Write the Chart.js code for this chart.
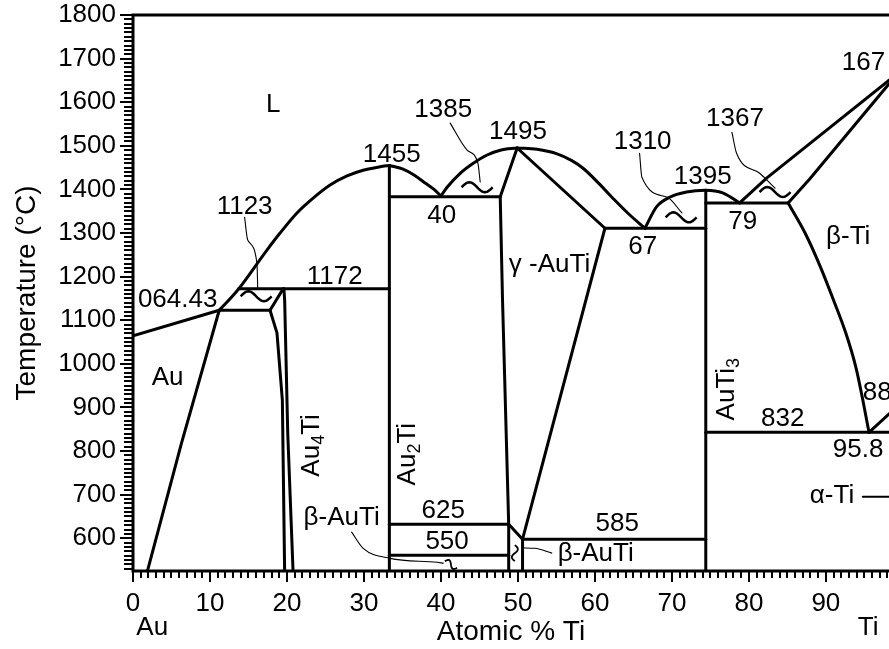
<!DOCTYPE html>
<html>
<head>
<meta charset="utf-8">
<title>Au-Ti phase diagram</title>
<script src="https://cdn.jsdelivr.net/npm/chart.js@4.4.1/dist/chart.umd.min.js"></script>
<style>
  html, body { margin: 0; padding: 0; background: #fff; overflow: hidden; }
  #wrap { width: 889px; height: 649px; }
</style>
</head>
<body>
<div id="wrap"><canvas id="chart" width="889" height="649"></canvas></div>
<script>
const FONT = '"Liberation Sans", Arial, Helvetica, sans-serif';

// axes
const xMin = 0, xMax = 98.2;
const yMin = 525, yMax = 1800;
const xTicks = [0, 10, 20, 30, 40, 50, 60, 70, 80, 90];
const yTicks = [600, 700, 800, 900, 1000, 1100, 1200, 1300, 1400, 1500, 1600, 1700, 1800];

// phase boundaries, points are [at.% Ti, temperature in C]
const liqAu = [[0, 1064.43], [11.2, 1123]];
const liqAu2TiLeft = [[11.2, 1123], [13.5, 1167], [17.4, 1261], [19.1, 1300], [21.3, 1346], [23.4, 1380],
  [25.6, 1410], [27.8, 1431], [29.9, 1444], [32.1, 1452], [33.3, 1455]];
const liqAu2TiRight = [[33.3, 1455], [35.0, 1447], [36.5, 1433], [38.0, 1414], [39.1, 1400], [40.0, 1385]];
const liqGammaLeft = [[40.0, 1385], [40.8, 1405], [42.5, 1437], [44.2, 1460], [46.0, 1479], [47.7, 1490], [49.9, 1495]];
const liqGammaRight = [[49.9, 1495], [52.5, 1492], [55.0, 1482], [57.0, 1466], [58.5, 1448], [60.5, 1414],
  [62.5, 1377], [64.5, 1342], [66.5, 1311]];
const liqAuTi3 = [[66.5, 1311], [68.0, 1360], [69.7, 1382], [71.9, 1394], [74.4, 1398], [76.6, 1392], [78.8, 1369]];
const liqTi = [[78.8, 1369], [82.3, 1426], [98.1, 1649], [100, 1672]];
const solTi = [[85.1, 1369], [87.9, 1424], [98.1, 1640], [100, 1672]];
const betaTransus = [[85.1, 1369], [87.3, 1300], [89.3, 1222], [91.0, 1146], [92.6, 1070], [93.9, 992], [94.8, 917], [95.6, 843]];
const auSolvus = [[1.8, 520], [6.3, 818], [11.2, 1123]];
const au4TiLeft = [[19.7, 520], [19.4, 917], [18.7, 1071], [17.8, 1123]];
const au4TiRight = [[20.8, 520], [20.1, 841], [19.7, 1146], [19.6, 1172]];
const au4TiTop = [[17.8, 1123], [19.5, 1172]];
const gammaLeftSolvus = [[48.8, 520], [48.8, 632], [48.0, 1146], [47.7, 1383]];
const gammaLeftTop = [[47.7, 1383], [49.9, 1495]];
const gammaSolidus = [[49.9, 1495], [61.3, 1311]];
const gammaRightSolvus = [[50.6, 598], [61.3, 1311]];
const betaAuTiRight = [[50.6, 520], [50.6, 598]];
const betaAuTiCorner = [[48.8, 632], [50.6, 598]];
const au2Ti = [[33.3, 520], [33.3, 1455]];
const auTi3 = [[74.4, 520], [74.4, 1398]];
const alphaBeta = [[95.6, 843], [100, 914]];

// invariant (horizontal) lines
const iso1123 = [[11.2, 1123], [17.8, 1123]];
const iso1172 = [[13.7, 1172], [33.3, 1172]];
const iso1385 = [[33.3, 1383], [47.7, 1383]];
const iso625 = [[33.3, 632], [48.8, 632]];
const iso550 = [[33.3, 561], [48.8, 561]];
const iso585 = [[50.6, 598], [74.4, 598]];
const iso1310 = [[61.3, 1311], [74.4, 1311]];
const iso1367 = [[74.4, 1369], [85.1, 1369]];
const iso832 = [[74.4, 843], [100, 843]];
const alphaTiPointer = [[94.8, 695], [100, 695]];

// thin leader lines from labels
const lead1123 = [[14.5, 1336], [14.9, 1284], [16.1, 1231], [16.2, 1175]];
const lead1385 = [[41.2, 1552], [43.4, 1490], [44.8, 1460], [45.1, 1417]];
const lead1310 = [[65.8, 1483], [66.1, 1428], [69.4, 1382], [71.3, 1346]];
const lead1367 = [[77.8, 1531], [78.4, 1483], [81.4, 1437], [83.4, 1403]];
const leadBetaLeft = [[28.4, 614], [29.9, 577], [33.4, 554], [39.5, 545], [40.3, 543]];
const leadBetaRight = [[50.6, 578], [52.2, 577], [54.4, 566]];

// small "~" marks for narrow two-phase fields
const tildes = [[16.0, 1155], [44.7, 1405], [71.2, 1336], [83.4, 1394]];

const curved = [liqAu2TiLeft, liqAu2TiRight, liqGammaLeft, liqGammaRight, liqAuTi3, betaTransus];
const straight = [liqAu, liqTi, solTi, auSolvus, au4TiLeft, au4TiRight, au4TiTop, gammaLeftSolvus, gammaLeftTop,
  gammaSolidus, gammaRightSolvus, betaAuTiRight, betaAuTiCorner, au2Ti, auTi3, alphaBeta,
  iso1123, iso1172, iso1385, iso625, iso550, iso585, iso1310, iso1367, iso832];
const leaders = [lead1123, lead1385, lead1310, lead1367, leadBetaLeft, leadBetaRight];

// text labels
const notes = [
  { text: 'L', at: [18.2, 1593] },
  { text: '1123', at: [14.5, 1359] },
  { text: '064.43', at: [5.8, 1146] },
  { text: '1172', at: [26.2, 1199] },
  { text: '1455', at: [33.6, 1479] },
  { text: '1385', at: [40.3, 1582] },
  { text: '1495', at: [50.0, 1532] },
  { text: '40', at: [40.1, 1339] },
  { text: 'γ -AuTi', at: [54.1, 1226] },
  { text: '1310', at: [66.2, 1509] },
  { text: '1395', at: [74.0, 1428] },
  { text: '1367', at: [78.2, 1563] },
  { text: '167', at: [97.7, 1690], align: 'right' },
  { text: '67', at: [66.2, 1268] },
  { text: '79', at: [79.2, 1325] },
  { text: 'β-Ti', at: [92.9, 1291] },
  { text: 'Au', at: [4.5, 969] },
  { text: 'β-AuTi', at: [27.1, 646] },
  { text: '625', at: [40.3, 664] },
  { text: '550', at: [40.8, 591] },
  { text: '585', at: [62.9, 634] },
  { text: 'β-AuTi', at: [60.1, 565] },
  { text: '832', at: [84.4, 875] },
  { text: '95.8', at: [90.9, 802], align: 'left' },
  { text: '88', at: [94.8, 933], align: 'left' },
  { text: 'α-Ti', at: [90.8, 698] },
  { parts: [['Au'], ['4', true], ['Ti']], at: [23.2, 813], rotate: true },
  { parts: [['Au'], ['2', true], ['Ti']], at: [35.7, 793], rotate: true },
  { parts: [['AuTi'], ['3', true]], at: [77.1, 942], rotate: true }
];

function toXY(points) {
  return points.map(p => ({ x: p[0], y: p[1] }));
}

function lineSet(points, width, smooth) {
  return {
    data: toXY(points),
    showLine: true,
    borderColor: '#000',
    borderWidth: width,
    pointRadius: 0,
    fill: false,
    tension: 0,
    cubicInterpolationMode: smooth ? 'monotone' : 'default',
    borderCapStyle: 'round',
    borderJoinStyle: 'round'
  };
}

const datasets = [];
curved.forEach(p => datasets.push(lineSet(p, 3, true)));
straight.forEach(p => datasets.push(lineSet(p, 3, false)));
datasets.push(lineSet(alphaTiPointer, 2, false));
leaders.forEach(p => datasets.push(lineSet(p, 1.1, true)));

function drawTilde(ctx, cx, cy, w, h, angle) {
  ctx.save();
  ctx.translate(cx, cy);
  ctx.rotate(angle || 0);
  ctx.beginPath();
  for (let i = 0; i <= 24; i++) {
    const t = i / 24;
    const px = -w / 2 + t * w;
    const py = -Math.sin(t * Math.PI * 2) * h / 2;
    if (i === 0) ctx.moveTo(px, py); else ctx.lineTo(px, py);
  }
  ctx.stroke();
  ctx.restore();
}

const decor = {
  id: 'decor',
  afterDraw(chart) {
    const { ctx, chartArea: a, scales: { x, y } } = chart;
    ctx.save();
    ctx.strokeStyle = '#000';
    ctx.fillStyle = '#000';

    // frame: left, bottom and top (right side is cut off)
    ctx.lineWidth = 3;
    ctx.beginPath();
    ctx.moveTo(a.right, a.top);
    ctx.lineTo(a.left, a.top);
    ctx.lineTo(a.left, a.bottom);
    ctx.lineTo(a.right, a.bottom);
    ctx.stroke();

    // outward tick combs
    ctx.lineWidth = 2;
    ctx.beginPath();
    for (let v = 530; v <= yMax; v += 10) {
      const py = Math.round(y.getPixelForValue(v));
      const len = v % 100 === 0 ? 13 : 9;
      ctx.moveTo(a.left - len, py);
      ctx.lineTo(a.left, py);
    }
    for (let v = 0; v <= 98; v++) {
      const px = Math.round(x.getPixelForValue(v));
      const len = v % 10 === 0 ? 11 : 7;
      ctx.moveTo(px, a.bottom);
      ctx.lineTo(px, a.bottom + len);
    }
    ctx.stroke();

    // tildes
    ctx.lineWidth = 2.5;
    tildes.forEach(t => drawTilde(ctx, x.getPixelForValue(t[0]), y.getPixelForValue(t[1]), 31, 10, 0));
    ctx.lineWidth = 1.8;
    drawTilde(ctx, x.getPixelForValue(49.6), y.getPixelForValue(566), 16, 6, Math.PI / 2);
    drawTilde(ctx, x.getPixelForValue(41.3), y.getPixelForValue(540), 14, 6, 0.5);

    // labels
    ctx.font = '26px ' + FONT;
    ctx.textBaseline = 'middle';
    notes.forEach(n => {
      const px = x.getPixelForValue(n.at[0]);
      const py = y.getPixelForValue(n.at[1]);
      if (n.parts) {
        ctx.save();
        ctx.translate(px, py);
        if (n.rotate) ctx.rotate(-Math.PI / 2);
        const widths = n.parts.map(p => {
          ctx.font = (p[1] ? '18px ' : '26px ') + FONT;
          return ctx.measureText(p[0]).width;
        });
        let cx = -widths.reduce((s, w) => s + w, 0) / 2;
        ctx.textAlign = 'left';
        n.parts.forEach((p, i) => {
          ctx.font = (p[1] ? '18px ' : '26px ') + FONT;
          ctx.fillText(p[0], cx, p[1] ? 7 : 0);
          cx += widths[i];
        });
        ctx.restore();
        ctx.font = '26px ' + FONT;
      } else {
        ctx.textAlign = n.align || 'center';
        ctx.fillText(n.text, px, py);
      }
    });

    // element names under the axis ends
    ctx.textAlign = 'center';
    ctx.fillText('Au', x.getPixelForValue(2.5), a.bottom + 57);
    ctx.fillText('Ti', x.getPixelForValue(95.5), a.bottom + 57);
    ctx.restore();
  }
};

new Chart(document.getElementById('chart'), {
  type: 'scatter',
  data: { datasets },
  options: {
    responsive: false,
    animation: false,
    events: [],
    layout: { padding: { top: 15, right: 0, bottom: 0, left: 0 } },
    plugins: { legend: { display: false }, tooltip: { enabled: false } },
    scales: {
      x: {
        type: 'linear',
        min: xMin,
        max: xMax,
        afterBuildTicks: s => { s.ticks = xTicks.map(v => ({ value: v })); },
        afterFit: s => { s.height = 78; s.paddingLeft = 0; s.paddingRight = 0; },
        grid: { display: false, drawTicks: false, tickLength: 0 },
        border: { display: false },
        ticks: { color: '#000', padding: 17, maxRotation: 0, autoSkip: false,
          font: { family: FONT, size: 26 }, callback: v => String(v) },
        title: { display: true, text: 'Atomic % Ti', color: '#000',
          font: { family: FONT, size: 28 }, padding: { top: 0, bottom: 0 } }
      },
      y: {
        type: 'linear',
        min: yMin,
        max: yMax,
        afterBuildTicks: s => { s.ticks = yTicks.map(v => ({ value: v })); },
        afterFit: s => { s.width = 133; s.paddingTop = 0; s.paddingBottom = 0; },
        grid: { display: false, drawTicks: false, tickLength: 0 },
        border: { display: false },
        ticks: { color: '#000', padding: 17, autoSkip: false,
          font: { family: FONT, size: 26 }, callback: v => String(v) },
        title: { display: true, text: 'Temperature (°C)', color: '#000',
          font: { family: FONT, size: 28 }, padding: { top: 10, bottom: 0 } }
      }
    }
  },
  plugins: [decor]
});
</script>
</body>
</html>
